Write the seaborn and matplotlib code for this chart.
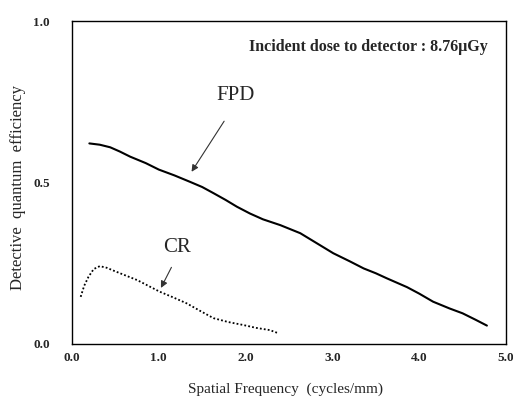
import matplotlib
matplotlib.use("Agg")
import matplotlib.pyplot as plt
import seaborn as sns
import pandas as pd

# Data
fpd_x = [0.20, 0.32, 0.44, 0.55, 0.67, 0.85, 1.00, 1.18, 1.36, 1.50, 1.63, 1.77, 1.90, 2.05, 2.20, 2.40, 2.63, 2.82, 3.01, 3.20, 3.36, 3.50, 3.63, 3.86, 4.00, 4.16, 4.35, 4.50, 4.65, 4.78]
fpd_y = [0.621, 0.617, 0.609, 0.596, 0.580, 0.560, 0.540, 0.522, 0.502, 0.486, 0.467, 0.446, 0.425, 0.404, 0.386, 0.368, 0.343, 0.312, 0.281, 0.256, 0.234, 0.219, 0.203, 0.176, 0.156, 0.131, 0.110, 0.095, 0.075, 0.057]
cr_x = [0.10, 0.14, 0.19, 0.25, 0.32, 0.40, 0.48, 0.60, 0.75, 0.88, 1.01, 1.16, 1.32, 1.48, 1.63, 1.80, 1.97, 2.12, 2.28, 2.38]
cr_y = [0.146, 0.180, 0.208, 0.232, 0.241, 0.236, 0.227, 0.214, 0.198, 0.180, 0.162, 0.145, 0.126, 0.102, 0.080, 0.068, 0.059, 0.050, 0.043, 0.033]

x_ticks = [0.0, 1.0, 2.0, 3.0, 4.0, 5.0]
x_tick_labels = ["0.0", "1.0", "2.0", "3.0", "4.0", "5.0"]
y_ticks = [0.0, 0.5, 1.0]
y_tick_labels = ["0.0", "0.5", "1.0"]

sns.set_style("white")
plt.rcParams['font.family'] = ['Liberation Serif', 'DejaVu Serif']

fig = plt.figure(figsize=(5.13, 4.01), dpi=100)
ax = fig.add_axes([72/513, 1-344/401, (506-72)/513, (344-21)/401])

df_fpd = pd.DataFrame({"x": fpd_x, "y": fpd_y})
df_cr = pd.DataFrame({"x": cr_x, "y": cr_y})
sns.lineplot(data=df_fpd, x="x", y="y", ax=ax, color="black", linewidth=1.5, sort=False)
sns.lineplot(data=df_cr, x="x", y="y", ax=ax, color="black", linewidth=1.3, linestyle=(0, (1, 1.2)), sort=False)

ax.set_xlim(0, 5)
ax.set_ylim(0, 1)
ax.set_xticks(x_ticks)
ax.set_xticklabels(x_tick_labels, fontweight="bold", fontsize=9.5)
ax.set_yticks(y_ticks)
ax.set_yticklabels(y_tick_labels, fontweight="bold", fontsize=9.5)
ax.tick_params(axis="x", length=0, pad=6)
ax.tick_params(axis="y", length=0, pad=16)

for s in ax.spines.values():
    s.set_color("black")
    s.set_linewidth(1.0)

ax.set_xlabel("Spatial Frequency  (cycles/mm)", fontsize=11)
ax.set_ylabel("Detective  quantum  efficiency", fontsize=12)
ax.xaxis.set_label_coords((285-72)/434, (344-389)/323)
ax.xaxis.label.set_va("center")
ax.yaxis.set_label_coords((18-72)/434, (344-188)/323)
ax.yaxis.label.set_va("center")

ax.text(4.79, 0.92, "Incident dose to detector : 8.76\u03bcGy", ha="right", va="center",
        fontsize=11.5, fontweight="bold")

ax.annotate("", xy=(1.36, 0.526), xytext=(1.77, 0.697),
            arrowprops=dict(arrowstyle="-|>", color="#333333", lw=0.8, mutation_scale=10))
ax.text(1.88, 0.77, "FPD", ha="center", va="center", fontsize=15)

ax.annotate("", xy=(1.01, 0.166), xytext=(1.16, 0.245),
            arrowprops=dict(arrowstyle="-|>", color="#333333", lw=0.8, mutation_scale=10))
ax.text(1.21, 0.30, "CR", ha="center", va="center", fontsize=15)

fig.savefig("out.png", dpi=100)
